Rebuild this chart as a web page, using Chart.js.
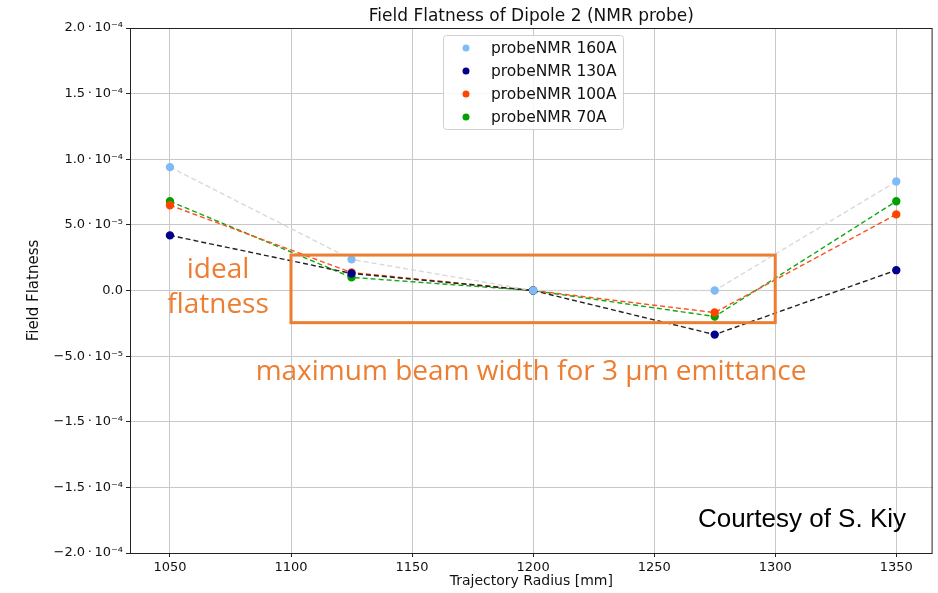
<!DOCTYPE html>
<html>
<head>
    <title>Field Flatness of Dipole 2</title>
    <script src="https://cdn.jsdelivr.net/npm/chart.js"></script>
    <style>
        html, body { margin: 0; background: white; overflow: hidden; }
        #chart { display: block; }
    </style>
</head>
<body>
<canvas id="chart" width="938" height="593"></canvas>
<script>
    // Data
    const radii = [1050, 1125, 1200, 1275, 1350];
    const probe160 = [9.4e-5, 2.37e-5, 0, 0, 8.3e-5];
    const probe130 = [4.2e-5, 1.3e-5, 0, -3.36e-5, 1.55e-5];
    const probe100 = [6.5e-5, 1.37e-5, 0, -1.68e-5, 5.8e-5];
    const probe70 = [6.8e-5, 1.0e-5, 0, -1.98e-5, 6.8e-5];

    const xTicks = [1050, 1100, 1150, 1200, 1250, 1300, 1350];
    const yTicks = [-2e-4, -1.5e-4, -1e-4, -5e-5, 0, 5e-5, 1e-4, 1.5e-4, 2e-4];
    // labels as printed in the original (including its repeated -1.5)
    const yTickLabels = ['\u22122.0\u2009\u00b7\u200910\u207b\u2074', '\u22121.5\u2009\u00b7\u200910\u207b\u2074',
        '\u22121.5\u2009\u00b7\u200910\u207b\u2074', '\u22125.0\u2009\u00b7\u200910\u207b\u2075', '0.0',
        '5.0\u2009\u00b7\u200910\u207b\u2075', '1.0\u2009\u00b7\u200910\u207b\u2074',
        '1.5\u2009\u00b7\u200910\u207b\u2074', '2.0\u2009\u00b7\u200910\u207b\u2074'];

    const ORANGE = '#ed7d31';
    const FONT = "'DejaVu Sans', sans-serif";

    const mkSet = (label, data, lineColor, pointColor) => ({
        label, data: data.map((v, i) => ({ x: radii[i], y: v })),
        borderColor: lineColor, backgroundColor: pointColor,
        pointBackgroundColor: pointColor, pointBorderColor: pointColor,
        pointRadius: 3.5, borderWidth: 1.4, borderDash: [5, 3], tension: 0
    });

    const noPad = s => { s.paddingLeft = 0; s.paddingRight = 0; };

    // legend, frame, annotations
    const extras = {
        id: 'extras',
        afterDraw(chart) {
            const { ctx, chartArea: a, scales: { x, y } } = chart;
            ctx.save();
            ctx.strokeStyle = '#222';
            ctx.lineWidth = 1;
            ctx.strokeRect(a.left + 0.5, a.top + 0.5, a.right - a.left - 1, a.bottom - a.top);

            // title
            ctx.fillStyle = '#111';
            ctx.font = '17px ' + FONT;
            ctx.textAlign = 'center';
            ctx.textBaseline = 'middle';
            ctx.fillText('Field Flatness of Dipole 2 (NMR probe)', (a.left + a.right) / 2, 17);

            // orange box
            ctx.strokeStyle = ORANGE;
            ctx.lineWidth = 3;
            const x0 = x.getPixelForValue(1100), x1 = x.getPixelForValue(1300);
            const y0 = y.getPixelForValue(2.7e-5), y1 = y.getPixelForValue(-2.45e-5);
            ctx.strokeRect(x0, y0, x1 - x0, y1 - y0);

            ctx.fillStyle = ORANGE;
            ctx.font = "28px 'Open Sans', sans-serif";
            ctx.fillText('ideal', 218, 270);
            ctx.fillText('flatness', 218, 305);
            ctx.fillText('maximum beam width for 3 \u03bcm emittance', 531, 372);

            ctx.fillStyle = '#000';
            ctx.font = "26px 'Liberation Sans', Arial, sans-serif";
            ctx.textAlign = 'right';
            ctx.fillText('Courtesy of S. Kiy', 906, 520);

            // legend
            const lx = 443, ly = 35, lw = 180, lh = 94;
            ctx.fillStyle = 'rgba(255,255,255,0.85)';
            ctx.strokeStyle = '#d0d0d0';
            ctx.lineWidth = 1;
            ctx.beginPath();
            ctx.roundRect(lx + 0.5, ly + 0.5, lw, lh, 3);
            ctx.fill();
            ctx.stroke();
            ctx.font = '15.5px ' + FONT;
            ctx.textAlign = 'left';
            chart.data.datasets.forEach((ds, i) => {
                const ry = ly + 13 + i * 23;
                ctx.fillStyle = ds.pointBackgroundColor;
                ctx.beginPath();
                ctx.arc(lx + 23, ry, 3.5, 0, Math.PI * 2);
                ctx.fill();
                ctx.fillStyle = '#111';
                ctx.fillText(ds.label, lx + 48, ry + 1);
            });
            ctx.restore();
        }
    };

    new Chart(document.getElementById('chart'), {
        type: 'line',
        data: {
            datasets: [
                mkSet('probeNMR 160A', probe160, '#d9d9d9', '#7fbcf7'),
                mkSet('probeNMR 130A', probe130, '#222222', '#00008b'),
                mkSet('probeNMR 100A', probe100, '#ff4f1f', '#ff4500'),
                mkSet('probeNMR 70A', probe70, '#10a810', '#00a000')
            ]
        },
        options: {
            responsive: false,
            animation: false,
            layout: { padding: { left: 0, top: 28, right: 2, bottom: 0 } },
            plugins: { legend: { display: false }, tooltip: { enabled: false } },
            scales: {
                x: {
                    type: 'linear', min: 1033.5, max: 1365,
                    afterBuildTicks: s => { s.ticks = xTicks.map(v => ({ value: v })); },
                    afterFit: s => { s.height = 40; noPad(s); },
                    grid: { color: '#c8c8c8', tickColor: '#222', tickLength: 4 },
                    border: { display: false },
                    ticks: { color: '#111', font: { family: FONT, size: 13 }, padding: 3, maxRotation: 0,
                        callback: v => String(v) },
                    title: { display: true, text: 'Trajectory Radius [mm]', color: '#111',
                        font: { family: FONT, size: 14 }, padding: { top: 0, bottom: 3 } }
                },
                y: {
                    min: -2e-4, max: 2e-4,
                    afterBuildTicks: s => { s.ticks = yTicks.map(v => ({ value: v })); },
                    afterFit: s => { s.width = 130; noPad(s); },
                    grid: { color: '#c8c8c8', tickColor: '#222', tickLength: 4 },
                    border: { display: false },
                    ticks: { color: '#111', font: { family: FONT, size: 13 }, padding: 3,
                        callback: (v, i) => yTickLabels[i] },
                    title: { display: true, text: 'Field Flatness', color: '#111',
                        font: { family: FONT, size: 15 }, padding: { top: 25, bottom: 0 } }
                }
            }
        },
        plugins: [extras]
    });
</script>
</body>
</html>
